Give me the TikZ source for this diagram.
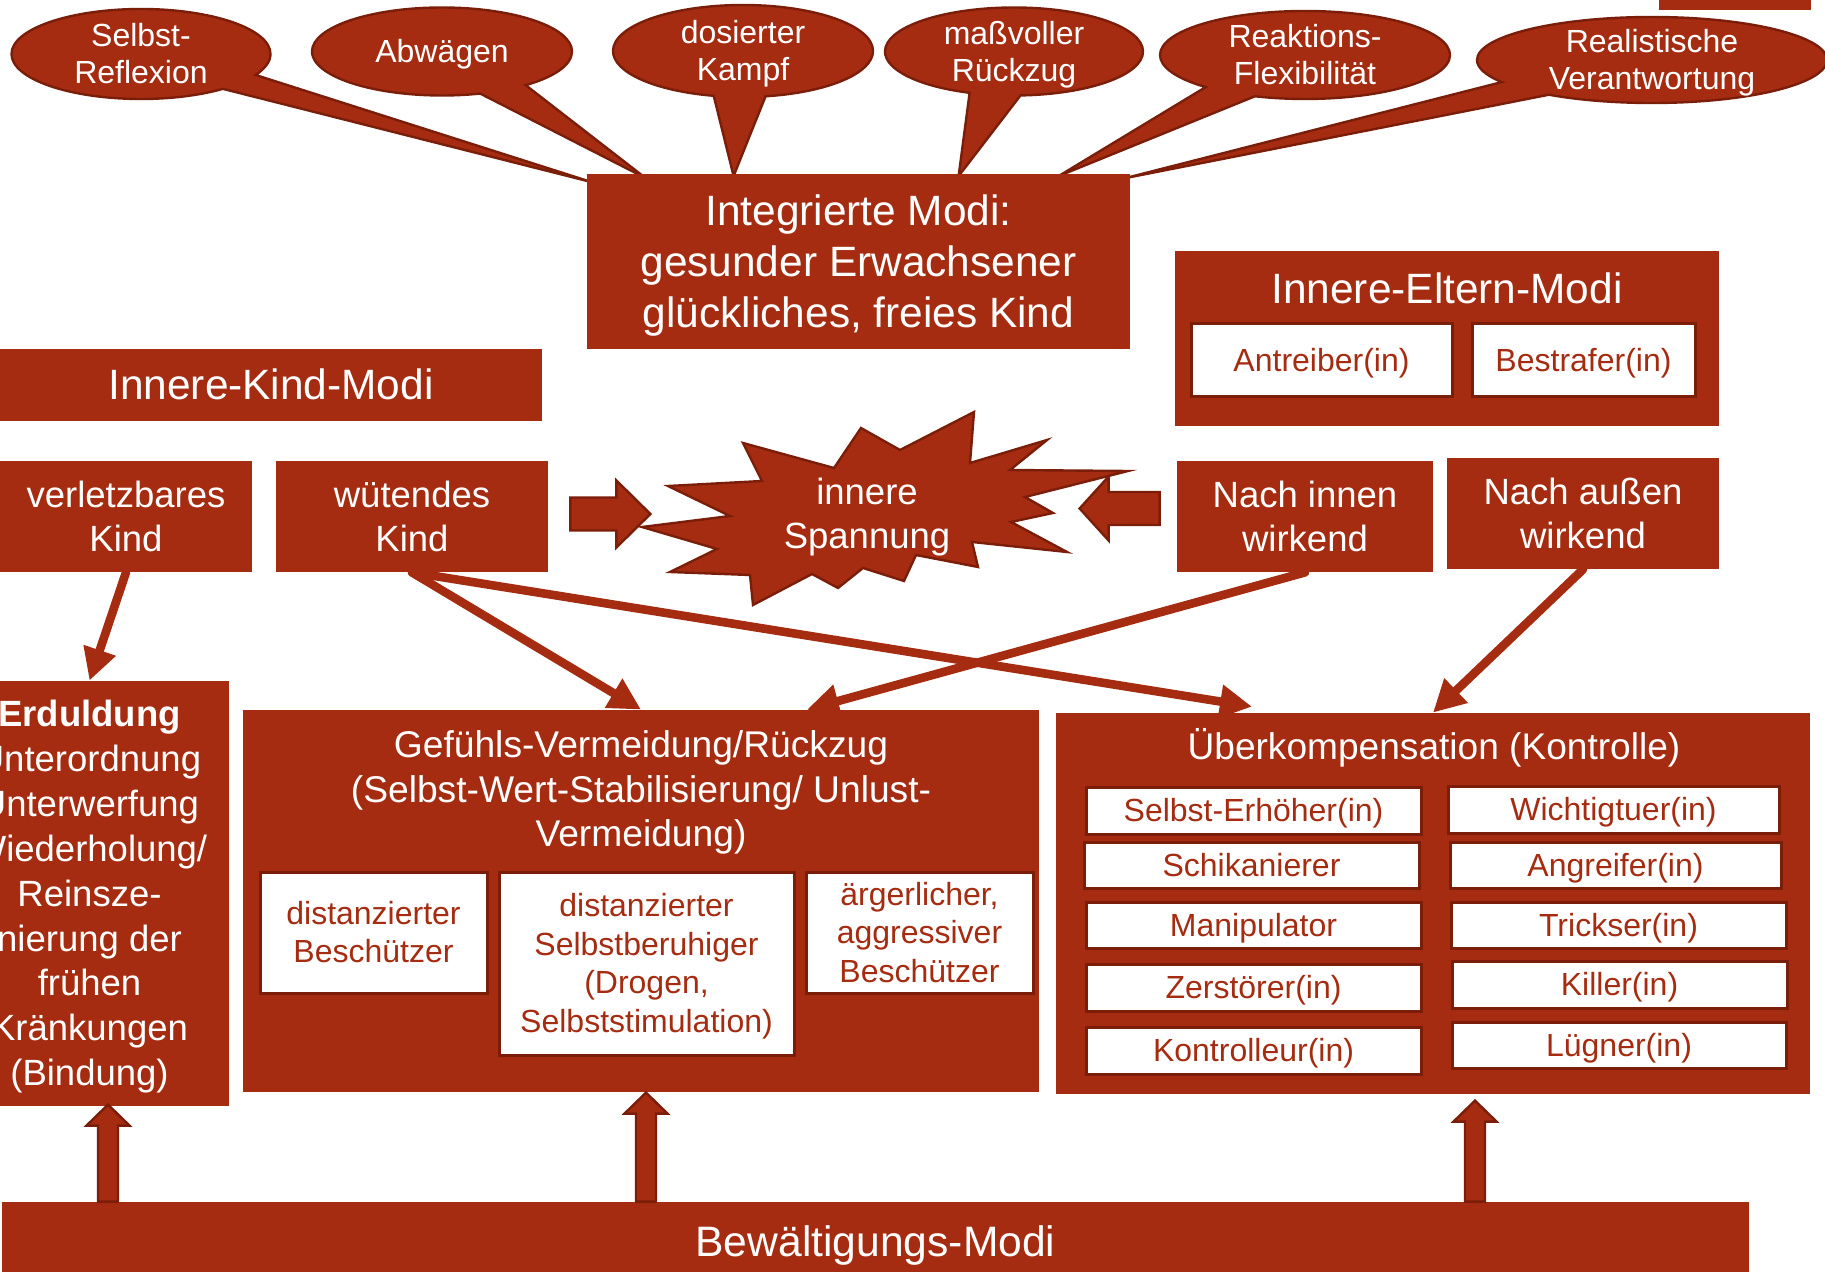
\documentclass[tikz,border=0pt]{standalone}
\usepackage{fontspec}
\setmainfont{Liberation Sans}
\usetikzlibrary{shapes.callouts,arrows.meta,calc}
\definecolor{rust}{RGB}{165,44,17}
\definecolor{rustdark}{RGB}{122,30,10}
\pgfdeclarelayer{bg}
\pgfsetlayers{bg,main}

% fixed ascent/descent strut so that lines sit like in a slide text frame
\newcommand\linestrut{\rule[-0.212em]{0pt}{1.117em}}

\tikzset{
  fs/.style 2 args={font=\fontsize{#1}{#2}\selectfont},
  struts/.style={execute at begin node=\linestrut, execute at end node=\linestrut},
  redbox/.style={rectangle, fill=rust, text=white, inner sep=0pt, align=center, struts},
  whitebox/.style={rectangle, fill=white, draw=rustdark, line width=1.5pt, text=rust,
    inner sep=0pt, align=center, fs={16}{19.25}, struts},
  bubble/.style={ellipse callout, fill=rust, draw=rustdark, line width=1.2pt, text=white,
    align=center, inner xsep=0pt, inner ysep=-4pt, callout pointer arc=23, fs={16}{18.5}, struts},
  conn/.style={draw=rust, line width=4.3pt, line cap=round, -{Triangle[length=16pt,width=16pt]}},
  blockarr/.style={fill=rust, draw=rustdark, line width=1.2pt, line join=miter},
  pics/barrow/.style n args={4}{code={%
    \filldraw[blockarr] (0,-#2) -- ({#1-#4},-#2) -- ({#1-#4},-#3) -- (#1,0)
      -- ({#1-#4},#3) -- ({#1-#4},#2) -- (0,#2) -- cycle;}},
}

\begin{document}
\begin{tikzpicture}[x=0.5pt,y=-0.5pt]
\useasboundingbox (0,0) rectangle (1825,1272);
\clip (0,0) rectangle (1825,1272);

% fragment of a box at the top right corner
\fill[rust] (1659,0) rectangle (1811,10);

% integrated modes
\node[redbox, minimum width=271.5pt, minimum height=87.5pt, fs={21.2}{25.5}] (integ) at (858.5,262)
  {\linestrut Integrierte Modi:\\gesunder Erwachsener\\glückliches, freies Kind};

% speech bubbles pointing at the integrated modes
\begin{pgfonlayer}{bg}
\node[bubble, minimum width=129.5pt, minimum height=45pt,
  callout absolute pointer={([xshift=2.5pt,yshift=-4pt]integ.north west)}] (c1) at (141,54) {\linestrut Selbst-\\Reflexion};
\node[bubble, minimum width=130pt, minimum height=44pt,
  callout absolute pointer={([xshift=29.5pt,yshift=-2pt]integ.north west)}] (c2) at (442,51.5) {Abwägen};
\node[bubble, minimum width=130pt, minimum height=46pt,
  callout absolute pointer={([xshift=73.5pt,yshift=-1pt]integ.north west)}] (c3) at (743,51) {\linestrut dosierter\\Kampf};
\node[bubble, minimum width=129pt, minimum height=44pt,
  callout absolute pointer={([xshift=186pt,yshift=-1pt]integ.north west)}] (c4) at (1014,51.5) {\linestrut maßvoller\\Rückzug};
\node[bubble, minimum width=145pt, minimum height=44pt,
  callout absolute pointer={([xshift=236pt,yshift=-1pt]integ.north west)}] (c5) at (1305,55) {\linestrut Reaktions-\\Flexibilität};
\node[bubble, minimum width=175pt, minimum height=43pt,
  callout absolute pointer={([xshift=-2.5pt,yshift=-2pt]integ.north east)}] (c6) at (1652,60) {\linestrut Realistische\\Verantwortung};
\end{pgfonlayer}

% inner parent modes
\node[redbox, minimum width=272pt, minimum height=87.5pt] (eltern) at (1447,338.5) {};
\node[text=white, fs={21.2}{25.5}] (elterntitle) at (1447,288) {Innere-Eltern-Modi};
\node[whitebox, minimum width=130.5pt, minimum height=36.5pt] (antr) at (1321.5,360.5) {Antreiber(in)};
\node[whitebox, minimum width=111.5pt, minimum height=36.5pt] (bestr) at (1583.5,360.5) {Bestrafer(in)};

% inner child modes
\node[redbox, minimum width=271pt, minimum height=36pt, fs={21.2}{25.5}] (kindmodi) at (271,385) {Innere-Kind-Modi};
\node[redbox, minimum width=126pt, minimum height=55.5pt, fs={18.25}{22}] (verl) at (126,516.5) {\linestrut verletzbares\\Kind};
\node[redbox, minimum width=136pt, minimum height=55.5pt, fs={18.25}{22}] (wut) at (412,516.5) {\linestrut wütendes\\Kind};
\node[redbox, minimum width=128pt, minimum height=55.5pt, fs={18.25}{22}] (innen) at (1305,516.5) {\linestrut Nach innen\\wirkend};
\node[redbox, minimum width=136pt, minimum height=55.5pt, fs={18.25}{22}] (aussen) at (1583,513.5) {\linestrut Nach außen\\wirkend};

% inner tension burst
\filldraw[fill=rust, draw=rustdark, line width=1.2pt, line join=miter]
  (642,527) -- (730,516) -- (668,486) -- (762,481) -- (743,443) -- (834,468) -- (861,428)
  -- (900,450) -- (974,412) -- (970,463) -- (1047,440) -- (1010,470) -- (1128,471)
  -- (1025,497) -- (1053,513) -- (1011,522) -- (1067,552) -- (972,542) -- (978,567)
  -- (916,555) -- (904,581) -- (863,568) -- (838,588) -- (812,574) -- (753,605)
  -- (750,575) -- (670,572) -- (717,549) -- cycle;
\node[text=white, fs={18.25}{22}, align=center] (spannung) at (867,517.5) {innere\\Spannung};
\pic at ([xshift=11pt,yshift=1.25pt]wut.east) {barrow={80}{16.5}{33.5}{34}};
\pic[rotate=180] at ([xshift=-8.5pt,yshift=4pt]innen.west) {barrow={80}{16.5}{32}{29}};

% endurance
\node[redbox, minimum width=139.5pt, minimum height=212.5pt, fs={18.25}{22.45}] (erd) at (89.5,893.5)
  {\linestrut\textbf{Erduldung}\\Unterordnung\\Unterwerfung\\Wiederholung/\\Reinsze-\\nierung der\\frühen\\Kränkungen\\(Bindung)};

% avoidance
\node[redbox, minimum width=398pt, minimum height=191pt] (gef) at (641,901) {};
\node[text=white, fs={18.6}{22.25}, align=center] (geftitle) at (641,792.5)
  {Gefühls-Vermeidung/Rückzug\\(Selbst-Wert-Stabilisierung/ Unlust-\\Vermeidung)};
\node[whitebox, minimum width=113.5pt, minimum height=60.5pt] (g1) at (373.5,932.5) {\linestrut distanzierter\\Beschützer};
\node[whitebox, minimum width=147.5pt, minimum height=91.5pt] (g2) at (646.5,963.5)
  {\linestrut distanzierter\\Selbstberuhiger\\(Drogen,\\Selbststimulation)};
\node[whitebox, minimum width=113.5pt, minimum height=60.5pt] (g3) at (919.5,932.5) {\linestrut ärgerlicher,\\aggressiver\\Beschützer};

% overcompensation
\node[redbox, minimum width=377pt, minimum height=190.5pt] (ueber) at (1433,903.5) {};
\node[text=white, fs={18.55}{22}] (uebertitle) at (1434,748) {Überkompensation (Kontrolle)};
\node[whitebox, minimum width=167.5pt, minimum height=23.5pt] (ul1) at (1253.5,810.5) {Selbst-Erhöher(in)};
\node[whitebox, minimum width=167.5pt, minimum height=23pt] (ul2) at (1251.5,865) {Schikanierer};
\node[whitebox, minimum width=167.5pt, minimum height=23pt] (ul3) at (1253.5,925) {Manipulator};
\node[whitebox, minimum width=167.5pt, minimum height=23.5pt] (ul4) at (1253.5,987.5) {Zerstörer(in)};
\node[whitebox, minimum width=167.5pt, minimum height=23.5pt] (ul5) at (1253.5,1050.5) {Kontrolleur(in)};
\node[whitebox, minimum width=165.5pt, minimum height=23.5pt] (ur1) at (1613.5,809.5) {Wichtigtuer(in)};
\node[whitebox, minimum width=165.5pt, minimum height=23pt] (ur2) at (1615.5,865) {Angreifer(in)};
\node[whitebox, minimum width=167.5pt, minimum height=23pt] (ur3) at (1618.5,925) {Trickser(in)};
\node[whitebox, minimum width=167.5pt, minimum height=23.5pt] (ur4) at (1619.5,984.5) {Killer(in)};
\node[whitebox, minimum width=167pt, minimum height=23pt] (ur5) at (1619,1045) {Lügner(in)};

% coping modes
\node[redbox, minimum width=873.5pt, minimum height=40pt, fs={21.3}{25}] (bew) at (875.5,1242) {Bewältigungs-Modi};

% connectors
\draw[conn] (verl.south) -- (erd.north);
\draw[conn] (wut.south) -- (gef.north);
\draw[conn] (wut.south) -- ([xshift=-90.5pt,yshift=3pt]ueber.north);
\draw[conn] (innen.south) -- ([xshift=83pt]gef.north);
\draw[conn] (aussen.south) -- (ueber.north);

% arrows rising from the coping modes
\coordinate (a1tip) at ([xshift=9.25pt,yshift=0.5pt]erd.south);
\coordinate (a2tip) at ([xshift=2.5pt,yshift=-0.5pt]gef.south);
\coordinate (a3tip) at ([xshift=21pt,yshift=-3.5pt]ueber.south);
\pic[rotate=90] at (a1tip |- bew.north) {barrow={97}{10}{21.5}{21}};
\pic[rotate=90] at (a2tip |- bew.north) {barrow={109}{10}{21.5}{21}};
\pic[rotate=90] at (a3tip |- bew.north) {barrow={101}{10}{21.5}{21}};
\end{tikzpicture}
\end{document}
